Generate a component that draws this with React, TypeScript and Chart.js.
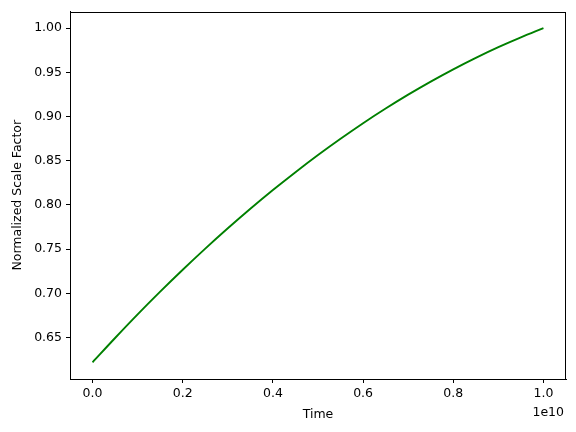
import React, { useEffect, useRef } from "react";
import { Chart, registerables } from "chart.js";

Chart.register(...registerables);

const timeValues = [
  0, 0.5e9, 1e9, 1.5e9, 2e9, 2.5e9, 3e9, 3.5e9, 4e9, 4.5e9, 5e9,
  5.5e9, 6e9, 6.5e9, 7e9, 7.5e9, 8e9, 8.5e9, 9e9, 9.5e9, 1e10,
];
const scaleFactor = [
  0.622, 0.6495, 0.6762, 0.7019, 0.7267, 0.7506, 0.7736, 0.7957, 0.8169, 0.8371, 0.8565,
  0.8749, 0.8925, 0.9091, 0.9248, 0.9396, 0.9535, 0.9665, 0.9786, 0.9897, 1.0,
];
const xTicks = [0, 0.2e10, 0.4e10, 0.6e10, 0.8e10, 1.0e10];
const yTicks = [0.65, 0.7, 0.75, 0.8, 0.85, 0.9, 0.95, 1.0];
const xOffsetLabel = "1e10";

const FONT = "'DejaVu Sans', sans-serif";
const FS = 12.5;

export default function App() {
  const ref = useRef<HTMLCanvasElement>(null);
  useEffect(() => {
    const canvas = ref.current!;
    const framePlugin = {
      id: "frameAndOffset",
      afterDraw(chart: any) {
        const ctx = chart.ctx;
        const a = chart.chartArea;
        const l = Math.round(a.left);
        const t = Math.round(a.top);
        const r = Math.round(a.right);
        const b = Math.round(a.bottom);
        ctx.save();
        ctx.strokeStyle = "#000";
        ctx.lineWidth = 1;
        ctx.beginPath();
        ctx.moveTo(l, t + 0.5);
        ctx.lineTo(r, t + 0.5);
        ctx.moveTo(r - 0.5, t);
        ctx.lineTo(r - 0.5, b);
        ctx.stroke();
        ctx.font = `${FS}px ${FONT}`;
        ctx.fillStyle = "#000";
        ctx.textAlign = "right";
        ctx.textBaseline = "middle";
        ctx.fillText(xOffsetLabel, a.right - 2, a.bottom + 34);
        ctx.restore();
      },
    };
    const xmin = -0.05 * 1e10;
    const xmax = 1.05 * 1e10;
    const ylo = Math.min(...scaleFactor);
    const yhi = Math.max(...scaleFactor);
    const ypad = (yhi - ylo) * 0.05;
    const chart = new Chart(canvas, {
      type: "line",
      data: {
        datasets: [
          {
            data: timeValues.map((t, i) => ({ x: t, y: scaleFactor[i] })),
            borderColor: "#008000",
            borderWidth: 1.9,
            pointRadius: 0,
            fill: false,
            cubicInterpolationMode: "monotone",
          },
        ],
      },
      options: {
        animation: false,
        responsive: false,
        devicePixelRatio: 1,
        layout: { padding: { left: 0, right: 10, top: 6.5, bottom: 0 } },
        plugins: { legend: { display: false }, tooltip: { enabled: false } },
        scales: {
          x: {
            type: "linear",
            min: xmin,
            max: xmax,
            afterBuildTicks: (s: any) => {
              s.ticks = xTicks.map((v) => ({ value: v }));
            },
            afterFit: (s: any) => {
              s.height = 53;
            },
            ticks: {
              color: "#000",
              font: { family: FONT, size: FS },
              padding: 3,
              maxRotation: 0,
              callback: (v: any) => (Number(v) / 1e10).toFixed(1),
            },
            grid: {
              drawOnChartArea: false,
              drawTicks: true,
              tickLength: 4,
              color: "#000",
              tickColor: "#000",
            },
            border: { color: "#000", width: 1 },
            title: {
              display: true,
              text: "Time",
              color: "#000",
              font: { family: FONT, size: FS },
              padding: { top: 4, bottom: 10 },
            },
          },
          y: {
            type: "linear",
            min: ylo - ypad,
            max: yhi + ypad,
            afterBuildTicks: (s: any) => {
              s.ticks = yTicks.map((v) => ({ value: v }));
            },
            afterFit: (s: any) => {
              s.width = 70;
            },
            ticks: {
              color: "#000",
              font: { family: FONT, size: FS },
              padding: 4,
              callback: (v: any) => Number(v).toFixed(2),
            },
            grid: {
              drawOnChartArea: false,
              drawTicks: true,
              tickLength: 4,
              color: "#000",
              tickColor: "#000",
            },
            border: { color: "#000", width: 1 },
            title: {
              display: true,
              text: "Normalized Scale Factor",
              color: "#000",
              font: { family: FONT, size: FS },
              padding: { top: 10, bottom: 0 },
            },
          },
        },
      } as any,
      plugins: [framePlugin],
    });
    return () => chart.destroy();
  }, []);
  return (
    <div style={{ position: "fixed", left: 0, top: 0, width: 576, height: 432, background: "#fff" }}>
      <canvas ref={ref} width={576} height={432} style={{ width: 576, height: 432 }} />
    </div>
  );
}
